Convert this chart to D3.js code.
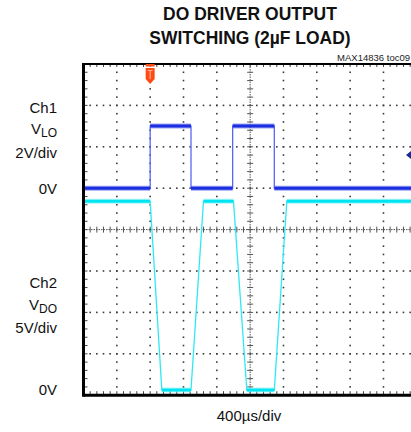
<!DOCTYPE html>
<html>
<head>
<meta charset="utf-8">
<script src="https://cdn.jsdelivr.net/npm/d3@7"></script>
<style>
  html, body { margin: 0; padding: 0; background: #fff; }
  svg { display: block; font-family: "Liberation Sans", Arial, sans-serif; }
</style>
</head>
<body>
<svg id="chart" width="411" height="432"></svg>
<script>
// ---- data ----
const timeUs = [0, 800, 800, 1290, 1290, 1790, 1790, 2290, 2290, 4000];          // Ch1 time points (µs)
const ch1Volts = [0, 0, 3, 3, 0, 0, 3, 3, 0, 0];                                  // VLO (V)
const ch2Time = [0, 800, 940, 1290, 1440, 1800, 1960, 2290, 2440, 4000];         // Ch2 time points (µs)
const ch2Volts = [22.8, 22.8, 0, 0, 22.8, 22.8, 0, 0, 22.8, 22.8];                 // VDO (V)
const titleLines = ["DO DRIVER OUTPUT", "SWITCHING (2µF LOAD)"];
const ch1Labels = ["Ch1", "2V/div", "0V"];
const ch2Labels = ["Ch2", "5V/div", "0V"];
const timeLabel = "400µs/div";
const tocLabel = "MAX14836 toc09";
const xDivs = 10, yDivs = 8, minor = 5;

// ---- layout ----
const svg = d3.select("#chart");
const x0 = 83.5, y0 = 64, dx = 33.33, dy = 41.4;
const x1 = x0 + xDivs * dx, y1 = y0 + yDivs * dy;

const x = d3.scaleLinear().domain([0, 4000]).range([x0, x1]);
const y1Scale = d3.scaleLinear().domain([-10, 6]).range([y1, y0]);        // 2V/div, 0V at 5 div up
const y2Scale = d3.scaleLinear().domain([-0.63, 39.37]).range([y1, y0]);  // 5V/div

const gridCol = "#3a3a3a";

// Title (slightly condensed bold)
[[titleLines[0], 20], [titleLines[1], 44]].forEach(([t, yb]) => {
  svg.append("text").attr("transform", `translate(250,${yb}) scale(0.92,1)`)
    .attr("text-anchor", "middle")
    .attr("font-size", 19).attr("font-weight", "bold").attr("fill", "#111")
    .text(t);
});
svg.append("text").attr("x", 410).attr("y", 61).attr("text-anchor", "end")
  .attr("font-size", 9.5).attr("fill", "#222").text(tocLabel);

// Grid
const grid = svg.append("g");
const xt = d3.range(0, xDivs * minor + 1).map(i => x0 + i * dx / minor);
const yt = d3.range(0, yDivs * minor + 1).map(i => y0 + i * dy / minor);
for (let j = 1; j < yDivs; j++) {
  if (j === yDivs / 2) continue;
  const yy = y0 + j * dy;
  grid.selectAll(null).data(xt.slice(1)).enter().append("rect")
    .attr("x", d => d - 0.8).attr("y", yy - 0.8).attr("width", 1.6).attr("height", 1.6).attr("fill", gridCol);
}
for (let i = 1; i < xDivs; i++) {
  if (i === xDivs / 2) continue;
  const xx = x0 + i * dx;
  grid.selectAll(null).data(yt.slice(1, -1)).enter().append("rect")
    .attr("x", xx - 0.8).attr("y", d => d - 0.8).attr("width", 1.6).attr("height", 1.6).attr("fill", gridCol);
}
const cx = x0 + (xDivs / 2) * dx, cy = y0 + (yDivs / 2) * dy;
grid.append("line").attr("x1", x0).attr("x2", x1).attr("y1", cy).attr("y2", cy)
  .attr("stroke", "#555").attr("stroke-width", 1).attr("stroke-dasharray", "1.5,1");
grid.append("line").attr("x1", cx).attr("x2", cx).attr("y1", y0).attr("y2", y1)
  .attr("stroke", "#555").attr("stroke-width", 1).attr("stroke-dasharray", "1.5,1");
grid.selectAll(null).data(xt).enter().append("line")
  .attr("x1", d => d).attr("x2", d => d).attr("y1", cy - 3).attr("y2", cy + 3)
  .attr("stroke", "#555").attr("stroke-width", 1);
grid.selectAll(null).data(yt).enter().append("line")
  .attr("y1", d => d).attr("y2", d => d).attr("x1", cx - 3).attr("x2", cx + 3)
  .attr("stroke", "#555").attr("stroke-width", 1);
grid.selectAll(null).data(xt).enter().append("line")
  .attr("x1", d => d).attr("x2", d => d).attr("y1", y1 - 4).attr("y2", y1)
  .attr("stroke", "#444").attr("stroke-width", 1);
grid.selectAll(null).data(xt).enter().append("line")
  .attr("x1", d => d).attr("x2", d => d).attr("y1", y0).attr("y2", y0 + 3)
  .attr("stroke", "#444").attr("stroke-width", 1);
grid.selectAll(null).data(yt).enter().append("line")
  .attr("y1", d => d).attr("y2", d => d).attr("x1", x0).attr("x2", x0 + 4)
  .attr("stroke", "#444").attr("stroke-width", 1);

// Frame
svg.append("line").attr("x1", x0).attr("x2", 411).attr("y1", y0).attr("y2", y0)
  .attr("stroke", "#000").attr("stroke-width", 2);
svg.append("line").attr("x1", x0).attr("x2", 411).attr("y1", y1).attr("y2", y1)
  .attr("stroke", "#000").attr("stroke-width", 3);
svg.append("line").attr("x1", x0).attr("x2", x0).attr("y1", y0 - 1).attr("y2", y1 + 1.5)
  .attr("stroke", "#000").attr("stroke-width", 3);

// Clip
svg.append("clipPath").attr("id", "plotclip").append("rect")
  .attr("x", x0 + 1.5).attr("y", y0 + 1).attr("width", x1 - x0).attr("height", y1 - y0 - 2.5);
const traces = svg.append("g").attr("clip-path", "url(#plotclip)");

function drawTrace(ts, vs, ys, edgeCol, mainCol, fuzzCol) {
  const pts = ts.map((t, i) => [x(t), ys(vs[i])]);
  traces.append("path").attr("d", d3.line()(pts)).attr("fill", "none")
    .attr("stroke", edgeCol).attr("stroke-width", 1.3);
  for (let i = 0; i < pts.length - 1; i++) {
    if (vs[i] === vs[i + 1]) {
      const seg = [pts[i], pts[i + 1]];
      traces.append("path").attr("d", d3.line()(seg)).attr("stroke", fuzzCol)
        .attr("stroke-width", 5).attr("opacity", 0.6);
      traces.append("path").attr("d", d3.line()(seg)).attr("stroke", mainCol)
        .attr("stroke-width", 3);
    }
  }
}
drawTrace(ch2Time, ch2Volts, y2Scale, "#2fe8f5", "#00e4f2", "#7ff0f8");
drawTrace(timeUs, ch1Volts, y1Scale, "#5866f0", "#1c2fe0", "#5a68ee");

// Trigger position marker
const tx = x(800);
const trig = svg.append("g").attr("transform", `translate(${tx},${y0})`);
trig.append("rect").attr("x", -4.5).attr("y", 0).attr("width", 9).attr("height", 2.5).attr("fill", "#ff4a14");
trig.append("path").attr("d", "M-4.5,4 L4.5,4 L4.5,15 L0,20 L-4.5,15 Z").attr("fill", "#ff4a14");
trig.append("path").attr("d", "M-2.4,6.5 L2.4,6.5 M0,6.5 L0,15").attr("stroke", "#ffb090").attr("stroke-width", 1.2);

// Trigger level marker (right)
svg.append("path").attr("d", `M${406},${y1Scale(1.6)} L411,${y1Scale(1.6) - 4} L411,${y1Scale(1.6) + 4} Z`)
  .attr("fill", "#1a2a9a");

// Left labels
function vlabel(yb, main, sub) {
  const t = svg.append("text").attr("x", 57).attr("y", yb).attr("text-anchor", "end")
    .attr("font-size", 15).attr("fill", "#111");
  t.append("tspan").text(main);
  t.append("tspan").attr("font-size", 12).attr("dy", 3).text(sub);
}
const lab = (txt, yb) => svg.append("text").attr("x", 57).attr("y", yb).attr("text-anchor", "end")
  .attr("font-size", 15).attr("fill", "#111").text(txt);
lab(ch1Labels[0], 113);
vlabel(134, "V", "LO");
lab(ch1Labels[1], 158);
lab(ch1Labels[2], y1Scale(0) + 5.5);
lab(ch2Labels[0], 288);
vlabel(310, "V", "DO");
lab(ch2Labels[1], 333);
lab(ch2Labels[2], y2Scale(0) + 5.5);

// Time label
svg.append("text").attr("x", 249).attr("y", 421).attr("text-anchor", "middle")
  .attr("font-size", 15).attr("fill", "#111").text(timeLabel);
</script>
</body>
</html>
